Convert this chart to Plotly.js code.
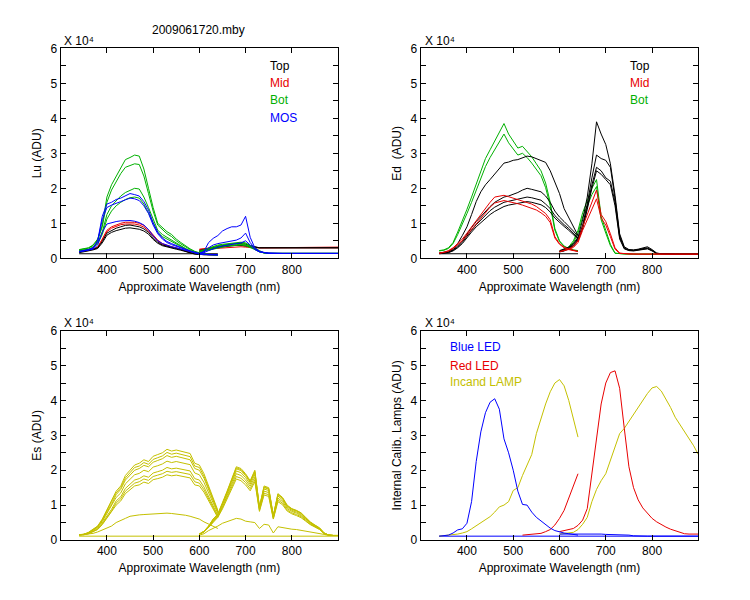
<!DOCTYPE html>
<html><head><meta charset="utf-8">
<script src="https://cdn.plot.ly/plotly-3.0.1.min.js"></script>
<style>html,body{margin:0;padding:0;background:#fff}</style>
</head><body><div id="chart" style="width:750px;height:600px"></div>
<script>
// Wavelength grids (nm): first spectrometer band and second band
var WL1 = [340,350,360,370,380,390,400,410,420,430,440,450,460,470,480,490,500,510,520,530,540,550,560,570,580,590,600,610,620,630,640];
var WL2 = [600,610,620,630,640,650,660,670,680,690,700,710,720,730,740,750,760,770,780,790,800,810,820,830,840,850,860,870,880,890,900];
var XTICKS = [400,500,600,700,800];
var YTICKS = [0,1,2,3,4,5,6];

// ---- Lu panel (x 10^4 ADU) ----
var LU_TOP1_A = [0.18,0.2,0.22,0.26,0.3,0.48,0.72,0.8,0.86,0.9,0.94,0.95,0.93,0.9,0.84,0.74,0.58,0.46,0.38,0.34,0.31,0.28,0.25,0.2,0.16,0.13,0.11,0.1,0.1,0.1,0.1];
var LU_TOP2_A = [0.16,0.18,0.2,0.24,0.28,0.44,0.66,0.74,0.79,0.83,0.86,0.87,0.86,0.83,0.78,0.69,0.54,0.43,0.36,0.32,0.29,0.26,0.23,0.19,0.15,0.12,0.11,0.1,0.1,0.1,0.1];
var LU_TOP1_B = [0.22,0.25,0.28,0.32,0.35,0.37,0.39,0.41,0.42,0.42,0.4,0.36,0.32,0.3,0.3,0.3,0.3,0.3,0.3,0.3,0.3,0.3,0.3,0.3,0.3,0.3,0.3,0.3,0.3,0.3,0.3];
var LU_TOP2_B = [0.2,0.22,0.25,0.28,0.31,0.33,0.35,0.36,0.37,0.37,0.35,0.32,0.3,0.3,0.3,0.3,0.3,0.3,0.3,0.3,0.3,0.3,0.3,0.3,0.3,0.3,0.3,0.3,0.3,0.3,0.3];
var LU_MID1_A = [0.2,0.21,0.23,0.27,0.32,0.55,0.8,0.9,0.96,1.0,1.03,1.04,1.03,1.0,0.94,0.82,0.66,0.52,0.42,0.37,0.33,0.3,0.27,0.22,0.17,0.14,0.12,0.11,0.1,0.1,0.1];
var LU_MID2_A = [0.19,0.2,0.22,0.26,0.31,0.52,0.76,0.86,0.92,0.96,0.98,0.99,0.98,0.95,0.89,0.78,0.62,0.49,0.4,0.35,0.32,0.29,0.26,0.21,0.16,0.13,0.12,0.11,0.1,0.1,0.1];
var LU_MID1_B = [0.26,0.28,0.3,0.32,0.33,0.34,0.36,0.37,0.38,0.37,0.35,0.33,0.31,0.3,0.3,0.3,0.3,0.3,0.3,0.3,0.3,0.3,0.3,0.3,0.3,0.3,0.32,0.32,0.32,0.32,0.32];
var LU_MID2_B = [0.25,0.26,0.27,0.28,0.3,0.31,0.32,0.33,0.34,0.33,0.32,0.3,0.3,0.3,0.3,0.3,0.3,0.3,0.3,0.3,0.3,0.3,0.3,0.3,0.3,0.3,0.3,0.3,0.3,0.3,0.3];
var LU_BOT1_A = [0.25,0.27,0.3,0.38,0.55,0.95,1.75,2.1,2.35,2.6,2.82,2.88,2.95,2.92,2.55,2.0,1.45,1.0,0.88,0.76,0.68,0.55,0.45,0.35,0.27,0.2,0.15,0.12,0.11,0.1,0.1];
var LU_BOT2_A = [0.24,0.26,0.29,0.36,0.52,0.9,1.6,1.95,2.2,2.42,2.6,2.66,2.7,2.68,2.35,1.85,1.35,0.95,0.82,0.7,0.62,0.5,0.41,0.32,0.25,0.19,0.14,0.12,0.11,0.1,0.1];
var LU_BOT3_A = [0.22,0.24,0.26,0.32,0.45,0.75,1.25,1.5,1.65,1.78,1.88,1.94,2.0,1.98,1.75,1.45,1.1,0.8,0.68,0.6,0.52,0.43,0.35,0.28,0.22,0.17,0.13,0.11,0.1,0.1,0.1];
var LU_BOT4_A = [0.21,0.23,0.25,0.3,0.42,0.68,1.12,1.35,1.5,1.6,1.68,1.73,1.75,1.72,1.55,1.3,1.0,0.74,0.62,0.55,0.48,0.4,0.33,0.26,0.2,0.16,0.12,0.11,0.1,0.1,0.1];
var LU_BOT1_B = [0.2,0.25,0.3,0.35,0.38,0.4,0.42,0.44,0.45,0.46,0.44,0.38,0.3,0.22,0.16,0.14,0.14,0.14,0.14,0.14,0.14,0.14,0.14,0.14,0.14,0.14,0.14,0.14,0.14,0.14,0.14];
var LU_BOT2_B = [0.2,0.24,0.28,0.33,0.36,0.38,0.4,0.42,0.43,0.44,0.42,0.36,0.28,0.2,0.15,0.14,0.14,0.14,0.14,0.14,0.14,0.14,0.14,0.14,0.14,0.14,0.14,0.14,0.14,0.14,0.14];
var LU_BOT3_B = [0.18,0.22,0.26,0.3,0.33,0.35,0.37,0.38,0.39,0.4,0.38,0.33,0.26,0.19,0.15,0.14,0.14,0.14,0.14,0.14,0.14,0.14,0.14,0.14,0.14,0.14,0.14,0.14,0.14,0.14,0.14];
var LU_BOT4_B = [0.17,0.2,0.24,0.28,0.31,0.33,0.35,0.36,0.37,0.38,0.36,0.31,0.25,0.18,0.15,0.14,0.14,0.14,0.14,0.14,0.14,0.14,0.14,0.14,0.14,0.14,0.14,0.14,0.14,0.14,0.14];
var LU_MOS1_A = [0.2,0.22,0.25,0.3,0.5,1.2,1.55,1.6,1.68,1.72,1.78,1.85,1.82,1.78,1.62,1.38,1.02,0.75,0.58,0.48,0.42,0.36,0.31,0.26,0.21,0.17,0.14,0.12,0.11,0.1,0.1];
var LU_MOS2_A = [0.19,0.21,0.24,0.29,0.48,1.1,1.45,1.52,1.58,1.62,1.67,1.72,1.7,1.65,1.5,1.28,0.95,0.7,0.55,0.45,0.39,0.34,0.29,0.24,0.2,0.16,0.13,0.11,0.1,0.1,0.1];
var LU_MOS3_A = [0.18,0.2,0.22,0.26,0.38,0.75,0.98,1.02,1.05,1.07,1.08,1.08,1.06,1.02,0.95,0.82,0.64,0.5,0.42,0.37,0.33,0.3,0.26,0.22,0.18,0.14,0.12,0.11,0.1,0.1,0.1];
var LU_MOS1_B = [0.14,0.2,0.45,0.57,0.65,0.78,0.85,0.9,0.9,0.95,1.2,0.6,0.3,0.2,0.16,0.15,0.15,0.14,0.14,0.14,0.14,0.14,0.14,0.14,0.14,0.14,0.14,0.14,0.14,0.14,0.14];
var LU_MOS2_B = [0.14,0.18,0.3,0.38,0.42,0.45,0.48,0.5,0.52,0.58,0.72,0.45,0.28,0.2,0.16,0.14,0.14,0.14,0.14,0.14,0.14,0.14,0.14,0.14,0.14,0.14,0.14,0.14,0.14,0.14,0.14];
var LU_MOS3_B = [0.14,0.16,0.22,0.28,0.32,0.35,0.38,0.4,0.42,0.44,0.5,0.38,0.25,0.18,0.15,0.14,0.14,0.14,0.14,0.14,0.14,0.14,0.14,0.14,0.14,0.14,0.14,0.14,0.14,0.14,0.14];
var LU_BASE_X = [340,640];
var LU_BASE_Y = [0.13,0.13];

// ---- Ed panel ----
var ED_TOP1_A = [0.15,0.17,0.2,0.28,0.42,0.65,0.9,1.25,1.62,1.9,2.1,2.25,2.4,2.58,2.72,2.75,2.8,2.82,2.86,2.92,2.9,2.85,2.8,2.74,2.5,2.15,1.85,1.42,1.15,0.88,0.65];
var ED_TOP2_A = [0.14,0.15,0.18,0.25,0.35,0.5,0.7,0.88,1.05,1.2,1.35,1.48,1.6,1.68,1.75,1.78,1.82,1.88,1.95,2.0,1.97,1.93,1.9,1.78,1.6,1.35,1.18,1.05,0.92,0.78,0.62];
var ED_TOP3_A = [0.14,0.15,0.17,0.23,0.32,0.46,0.64,0.8,0.96,1.1,1.24,1.36,1.46,1.54,1.6,1.63,1.66,1.7,1.72,1.75,1.73,1.7,1.66,1.55,1.42,1.22,1.08,0.96,0.85,0.72,0.58];
var ED_TOP4_A = [0.13,0.14,0.16,0.21,0.3,0.42,0.6,0.75,0.9,1.02,1.14,1.25,1.34,1.42,1.48,1.52,1.55,1.58,1.6,1.62,1.6,1.57,1.53,1.45,1.32,1.15,1.02,0.91,0.8,0.68,0.55];
var ED_TOP1_B = [0.22,0.26,0.32,0.42,0.6,1.1,1.75,2.7,3.9,3.55,3.25,2.7,1.8,0.7,0.33,0.25,0.24,0.26,0.3,0.33,0.25,0.15,0.13,0.12,0.12,0.12,0.12,0.12,0.12,0.12,0.12];
var ED_TOP2_B = [0.2,0.24,0.3,0.4,0.56,0.95,1.55,2.3,2.95,2.85,2.8,2.6,1.7,0.65,0.3,0.24,0.23,0.25,0.28,0.3,0.23,0.14,0.13,0.12,0.12,0.12,0.12,0.12,0.12,0.12,0.12];
var ED_TOP3_B = [0.19,0.22,0.28,0.37,0.52,0.88,1.45,2.1,2.6,2.5,2.3,2.2,1.6,0.6,0.28,0.23,0.22,0.24,0.27,0.28,0.22,0.14,0.13,0.12,0.12,0.12,0.12,0.12,0.12,0.12,0.12];
var ED_TOP4_B = [0.18,0.21,0.27,0.35,0.5,0.85,1.4,2.0,2.5,2.4,2.25,2.1,1.5,0.55,0.27,0.22,0.21,0.23,0.26,0.27,0.21,0.13,0.13,0.12,0.12,0.12,0.12,0.12,0.12,0.12,0.12];
var ED_MID1_A = [0.15,0.17,0.22,0.3,0.42,0.55,0.72,0.9,1.08,1.25,1.42,1.6,1.75,1.78,1.8,1.76,1.72,1.68,1.65,1.6,1.55,1.48,1.38,1.28,1.1,0.62,0.42,0.32,0.26,0.22,0.2];
var ED_MID2_A = [0.14,0.16,0.2,0.28,0.38,0.5,0.66,0.82,1.0,1.15,1.3,1.46,1.58,1.62,1.65,1.62,1.6,1.56,1.52,1.48,1.44,1.38,1.3,1.2,1.02,0.58,0.4,0.3,0.25,0.21,0.19];
var ED_MID1_B = [0.19,0.22,0.27,0.34,0.5,0.9,1.25,1.6,1.95,1.25,1.05,0.7,0.3,0.15,0.13,0.12,0.12,0.12,0.12,0.12,0.12,0.12,0.12,0.12,0.12,0.12,0.12,0.12,0.12,0.12,0.12];
var ED_MID2_B = [0.19,0.21,0.25,0.31,0.45,0.8,1.1,1.42,1.7,1.15,0.95,0.62,0.26,0.14,0.13,0.12,0.12,0.12,0.12,0.12,0.12,0.12,0.12,0.12,0.12,0.12,0.12,0.12,0.12,0.12,0.12];
var ED_BOT1_A = [0.22,0.24,0.3,0.45,0.75,1.05,1.4,1.75,2.1,2.5,2.85,3.1,3.35,3.6,3.85,3.55,3.35,3.15,3.2,3.05,2.9,2.7,2.5,2.15,1.6,0.85,0.5,0.35,0.28,0.24,0.22];
var ED_BOT2_A = [0.21,0.23,0.28,0.42,0.68,0.96,1.28,1.6,1.95,2.3,2.62,2.88,3.1,3.35,3.55,3.3,3.12,2.95,3.0,2.88,2.72,2.55,2.36,2.02,1.5,0.8,0.48,0.33,0.27,0.23,0.21];
var ED_BOT1_B = [0.2,0.25,0.33,0.5,0.8,1.3,1.65,2.0,2.25,1.2,0.8,0.4,0.15,0.13,0.12,0.12,0.12,0.12,0.12,0.12,0.12,0.12,0.12,0.12,0.12,0.12,0.12,0.12,0.12,0.12,0.12];
var ED_BOT2_B = [0.19,0.23,0.3,0.45,0.72,1.18,1.5,1.82,2.05,1.1,0.72,0.36,0.14,0.13,0.12,0.12,0.12,0.12,0.12,0.12,0.12,0.12,0.12,0.12,0.12,0.12,0.12,0.12,0.12,0.12,0.12];
var ED_BASE_X = [340,640];
var ED_BASE_Y = [0.13,0.13];

// ---- Es panel ----
var ES_A_1 = [0.15,0.16,0.22,0.3,0.4,0.6,0.86,1.1,1.4,1.55,1.85,2.0,2.15,2.2,2.3,2.25,2.4,2.45,2.5,2.6,2.55,2.58,2.55,2.5,2.48,2.2,2.15,1.9,1.55,1.2,0.85];
var ES_F_1 = [0.15,0.16,0.21,0.29,0.39,0.58,0.83,1.06,1.35,1.5,1.78,1.93,2.08,2.12,2.22,2.17,2.31,2.36,2.41,2.51,2.46,2.49,2.46,2.41,2.39,2.12,2.08,1.83,1.5,1.16,0.82];
var ES_B_1 = [0.15,0.16,0.21,0.28,0.38,0.56,0.8,1.02,1.3,1.45,1.72,1.86,2.0,2.05,2.14,2.1,2.23,2.28,2.33,2.42,2.37,2.4,2.37,2.33,2.3,2.05,2.0,1.77,1.44,1.12,0.8];
var ES_C_1 = [0.15,0.16,0.2,0.27,0.36,0.53,0.75,0.96,1.22,1.35,1.61,1.74,1.87,1.91,2.0,1.96,2.09,2.13,2.18,2.26,2.22,2.25,2.22,2.18,2.16,1.92,1.87,1.65,1.35,1.05,0.76];
var ES_D_1 = [0.15,0.16,0.19,0.25,0.33,0.49,0.69,0.88,1.12,1.24,1.48,1.6,1.72,1.76,1.84,1.8,1.92,1.96,2.0,2.08,2.04,2.06,2.04,2.0,1.98,1.76,1.72,1.52,1.24,0.96,0.7];
var ES_G_1 = [0.15,0.15,0.18,0.24,0.31,0.46,0.65,0.83,1.06,1.18,1.4,1.52,1.63,1.67,1.75,1.71,1.82,1.86,1.9,1.97,1.94,1.96,1.94,1.9,1.88,1.67,1.63,1.44,1.18,0.91,0.67];
var ES_E_1 = [0.15,0.15,0.18,0.23,0.3,0.44,0.62,0.79,1.0,1.12,1.33,1.44,1.55,1.58,1.66,1.62,1.73,1.76,1.8,1.87,1.84,1.86,1.84,1.8,1.78,1.58,1.55,1.37,1.12,0.87,0.64];
var ES_L_1 = [0.14,0.15,0.17,0.19,0.23,0.28,0.33,0.4,0.5,0.57,0.62,0.68,0.71,0.72,0.73,0.74,0.76,0.75,0.76,0.77,0.76,0.75,0.74,0.71,0.68,0.63,0.6,0.52,0.45,0.39,0.33];
var ES_A_2 = [0.17,0.25,0.4,0.6,0.75,1.05,1.4,1.75,2.1,2.05,1.9,1.7,2.0,0.95,1.55,1.5,0.7,1.33,1.22,1.0,0.9,0.85,0.78,0.65,0.52,0.43,0.35,0.2,0.14,0.13,0.13];
var ES_F_2 = [0.17,0.25,0.4,0.6,0.74,1.03,1.38,1.72,2.07,2.02,1.87,1.68,1.97,0.94,1.52,1.48,0.69,1.31,1.2,0.98,0.89,0.84,0.77,0.64,0.51,0.42,0.34,0.2,0.14,0.13,0.13];
var ES_B_2 = [0.17,0.25,0.39,0.59,0.73,1.02,1.36,1.7,2.04,1.99,1.85,1.65,1.94,0.93,1.5,1.46,0.68,1.3,1.19,0.97,0.88,0.83,0.76,0.63,0.5,0.42,0.34,0.2,0.14,0.13,0.13];
var ES_C_2 = [0.17,0.24,0.38,0.57,0.71,0.99,1.32,1.65,1.98,1.93,1.79,1.6,1.88,0.91,1.46,1.42,0.66,1.26,1.15,0.94,0.85,0.8,0.73,0.61,0.49,0.4,0.33,0.19,0.14,0.13,0.13];
var ES_D_2 = [0.17,0.23,0.37,0.55,0.68,0.95,1.27,1.58,1.9,1.85,1.72,1.54,1.8,0.88,1.4,1.36,0.64,1.2,1.1,0.9,0.82,0.77,0.7,0.59,0.47,0.39,0.32,0.19,0.14,0.13,0.13];
var ES_G_2 = [0.17,0.23,0.36,0.53,0.66,0.92,1.22,1.52,1.82,1.77,1.65,1.47,1.73,0.85,1.34,1.3,0.62,1.15,1.05,0.86,0.78,0.73,0.67,0.56,0.45,0.38,0.31,0.18,0.14,0.13,0.13];
var ES_E_2 = [0.17,0.23,0.36,0.52,0.65,0.89,1.17,1.46,1.75,1.7,1.58,1.41,1.67,0.82,1.29,1.25,0.6,1.1,1.01,0.83,0.75,0.7,0.64,0.54,0.44,0.37,0.3,0.18,0.14,0.13,0.13];
var ES_L_2 = [0.14,0.18,0.27,0.33,0.4,0.48,0.53,0.58,0.62,0.6,0.54,0.52,0.5,0.33,0.45,0.43,0.2,0.38,0.35,0.33,0.31,0.3,0.28,0.26,0.24,0.22,0.19,0.16,0.13,0.13,0.13];
var ES_BASE_X = [340,900];
var ES_BASE_Y = [0.11,0.11];

// ---- Internal calibration lamps ----
var BLUE_LED_1 = [0.11,0.12,0.14,0.2,0.29,0.32,0.48,1.1,2.25,3.1,3.65,3.95,4.05,3.75,2.9,2.5,2.0,1.4,1.02,1.0,0.8,0.65,0.54,0.44,0.34,0.27,0.23,0.2,0.18,0.15,0.14];
var BLUE_LED_2 = [0.17,0.17,0.17,0.17,0.17,0.17,0.18,0.19,0.18,0.17,0.16,0.16,0.15,0.15,0.14,0.14,0.12,0.11,0.11,0.11,0.11,0.11,0.11,0.11,0.11,0.11,0.11,0.11,0.11,0.11,0.11];
var RED_LED_1 = [null,null,null,null,null,null,null,null,null,null,null,null,null,null,null,null,null,null,0.14,0.15,0.16,0.17,0.19,0.24,0.3,0.43,0.62,0.85,1.2,1.6,1.9];
var RED_LED_2 = [0.24,0.27,0.3,0.33,0.42,0.57,0.9,1.9,2.9,3.9,4.5,4.8,4.85,4.35,3.2,2.1,1.5,1.15,0.92,0.78,0.62,0.52,0.44,0.37,0.31,0.26,0.22,0.18,0.17,0.17,0.17];
var INCAND_1 = [0.11,0.12,0.13,0.14,0.17,0.2,0.24,0.32,0.41,0.49,0.58,0.67,0.8,0.95,1.0,1.1,1.42,1.5,1.85,2.15,2.45,3.05,3.5,3.9,4.25,4.5,4.6,4.42,4.0,3.45,2.95];
var INCAND_2 = [0.17,0.18,0.2,0.22,0.3,0.45,0.65,1.1,1.45,1.7,1.9,2.3,2.7,3.05,3.2,3.4,3.58,3.8,4.0,4.2,4.36,4.4,4.27,4.05,3.8,3.52,3.32,3.1,2.93,2.7,2.45];
var LAMP_BASE_X = [340,900];
var LAMP_BASE_Y = [0.11,0.11];

// ---- styling ----
var BLACK = '#000000', RED = '#e80000', GREEN = '#00b000', BLUE = '#0000ff', YELLOW = '#c4c000';
var FONT = 'Liberation Sans, Arial, Helvetica, sans-serif';

function ln(x, y, color, n) {
  return {x: x, y: y, type: 'scatter', mode: 'lines', line: {color: color, width: 1},
          xaxis: 'x' + (n === 1 ? '' : n), yaxis: 'y' + (n === 1 ? '' : n),
          hoverinfo: 'skip', showlegend: false};
}
var traces = [];
// Lu
traces.push(ln(LU_BASE_X, LU_BASE_Y, BLACK, 1));
[LU_MID1_A, LU_MID2_A].forEach(function(v){ traces.push(ln(WL1, v, RED, 1)); });
[LU_MID1_B, LU_MID2_B].forEach(function(v){ traces.push(ln(WL2, v, RED, 1)); });
[LU_TOP1_A, LU_TOP2_A].forEach(function(v){ traces.push(ln(WL1, v, BLACK, 1)); });
[LU_TOP1_B, LU_TOP2_B].forEach(function(v){ traces.push(ln(WL2, v, BLACK, 1)); });
[LU_BOT1_A, LU_BOT2_A, LU_BOT3_A, LU_BOT4_A].forEach(function(v){ traces.push(ln(WL1, v, GREEN, 1)); });
[LU_BOT1_B, LU_BOT2_B, LU_BOT3_B, LU_BOT4_B].forEach(function(v){ traces.push(ln(WL2, v, GREEN, 1)); });
[LU_MOS1_A, LU_MOS2_A, LU_MOS3_A].forEach(function(v){ traces.push(ln(WL1, v, BLUE, 1)); });
[LU_MOS1_B, LU_MOS2_B, LU_MOS3_B].forEach(function(v){ traces.push(ln(WL2, v, BLUE, 1)); });
// Ed
traces.push(ln(ED_BASE_X, ED_BASE_Y, BLACK, 2));
[ED_BOT1_A, ED_BOT2_A].forEach(function(v){ traces.push(ln(WL1, v, GREEN, 2)); });
[ED_BOT1_B, ED_BOT2_B].forEach(function(v){ traces.push(ln(WL2, v, GREEN, 2)); });
[ED_TOP1_A, ED_TOP2_A, ED_TOP3_A, ED_TOP4_A].forEach(function(v){ traces.push(ln(WL1, v, BLACK, 2)); });
[ED_TOP1_B, ED_TOP2_B, ED_TOP3_B, ED_TOP4_B].forEach(function(v){ traces.push(ln(WL2, v, BLACK, 2)); });
[ED_MID1_A, ED_MID2_A].forEach(function(v){ traces.push(ln(WL1, v, RED, 2)); });
[ED_MID1_B, ED_MID2_B].forEach(function(v){ traces.push(ln(WL2, v, RED, 2)); });
// Es
traces.push(ln(ES_BASE_X, ES_BASE_Y, YELLOW, 3));
[ES_A_1, ES_F_1, ES_B_1, ES_C_1, ES_D_1, ES_G_1, ES_E_1, ES_L_1].forEach(function(v){ traces.push(ln(WL1, v, YELLOW, 3)); });
[ES_A_2, ES_F_2, ES_B_2, ES_C_2, ES_D_2, ES_G_2, ES_E_2, ES_L_2].forEach(function(v){ traces.push(ln(WL2, v, YELLOW, 3)); });
// Lamps
traces.push(ln(LAMP_BASE_X, LAMP_BASE_Y, BLUE, 4));
traces.push(ln(WL1, INCAND_1, YELLOW, 4));
traces.push(ln(WL2, INCAND_2, YELLOW, 4));
traces.push(ln(WL1, RED_LED_1, RED, 4));
traces.push(ln(WL2, RED_LED_2, RED, 4));
traces.push(ln(WL1, BLUE_LED_1, BLUE, 4));
traces.push(ln(WL2, BLUE_LED_2, BLUE, 4));

var XL = [0.0809, 0.4507], XR = [0.5609, 0.9311];
var YT = [0.5695, 0.9195], YB = [0.1, 0.4488];

function xax(dom, anchor) {
  return {domain: dom, anchor: anchor, range: [300, 900], tickmode: 'array', tickvals: XTICKS,
    ticks: 'inside', ticklen: 5, tickcolor: '#000', tickwidth: 1,
    showline: true, linecolor: '#000', linewidth: 1, mirror: 'ticks',
    showgrid: false, zeroline: false, fixedrange: true,
    tickfont: {family: FONT, size: 12, color: '#000'},
    title: {text: 'Approximate Wavelength (nm)', font: {family: FONT, size: 12, color: '#000'}, standoff: 6}};
}
function yax(dom, anchor, title) {
  return {domain: dom, anchor: anchor, range: [0, 6], tickmode: 'array', tickvals: YTICKS,
    ticks: 'inside', ticklen: 5, tickcolor: '#000', tickwidth: 1,
    minor: {dtick: 0.5, tick0: 0, ticks: 'inside', ticklen: 5, tickcolor: '#000', tickwidth: 1, showgrid: false},
    showline: true, linecolor: '#000', linewidth: 1, mirror: 'ticks',
    showgrid: false, zeroline: false, fixedrange: true,
    tickfont: {family: FONT, size: 12, color: '#000'},
    title: {text: title, font: {family: FONT, size: 12, color: '#000'}, standoff: 6}};
}

function ann(x, y, text, color, xanchor) {
  return {xref: 'paper', yref: 'paper', x: x, y: y, text: text, showarrow: false,
    xanchor: xanchor || 'left', yanchor: 'middle', font: {family: FONT, size: 12, color: color}};
}
var annotations = [
  ann(0.2644, 0.95, '2009061720.mby', BLACK, 'center'),
  ann(0.0827, 0.9317, 'X 10\u2074', BLACK),
  ann(0.5636, 0.9317, 'X 10\u2074', BLACK),
  ann(0.0827, 0.4610, 'X 10\u2074', BLACK),
  ann(0.5636, 0.4610, 'X 10\u2074', BLACK),
  ann(0.3573, 0.8905, 'Top', BLACK),
  ann(0.3573, 0.8612, 'Mid', RED),
  ann(0.3573, 0.8328, 'Bot', GREEN),
  ann(0.3573, 0.8033, 'MOS', BLUE),
  ann(0.8373, 0.8905, 'Top', BLACK),
  ann(0.8373, 0.8612, 'Mid', RED),
  ann(0.8373, 0.8328, 'Bot', GREEN),
  ann(0.5970, 0.4212, 'Blue LED', BLUE),
  ann(0.5970, 0.3905, 'Red LED', RED),
  ann(0.5970, 0.3628, 'Incand LAMP', YELLOW)
];

var layout = {
  width: 750, height: 600, autosize: false,
  margin: {l: 0, r: 0, t: 0, b: 0, pad: 0},
  paper_bgcolor: '#fff', plot_bgcolor: '#fff',
  font: {family: FONT, size: 12, color: '#000'},
  showlegend: false,
  xaxis: xax(XL, 'y'), yaxis: yax(YT, 'x', 'Lu (ADU)'),
  xaxis2: xax(XR, 'y2'), yaxis2: yax(YT, 'x2', 'Ed\u00a0 (ADU)'),
  xaxis3: xax(XL, 'y3'), yaxis3: yax(YB, 'x3', 'Es (ADU)'),
  xaxis4: xax(XR, 'y4'), yaxis4: yax(YB, 'x4', 'Internal Calib. Lamps (ADU)'),
  annotations: annotations
};
Plotly.newPlot('chart', traces, layout, {staticPlot: true, displayModeBar: false});
</script></body></html>
